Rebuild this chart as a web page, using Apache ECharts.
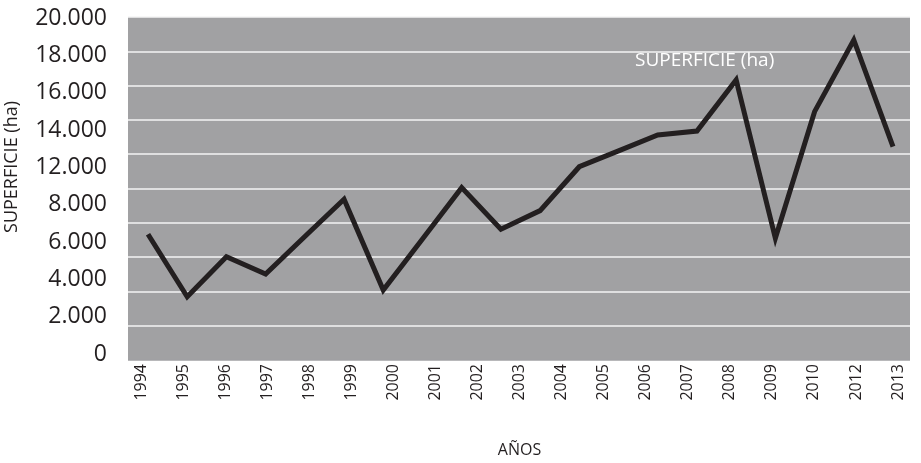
<!DOCTYPE html>
<html>
<head>
<meta charset="utf-8">
<script src="https://cdn.jsdelivr.net/npm/echarts@6/dist/echarts.min.js"></script>
<style>
html, body { margin: 0; padding: 0; background: #fff; }
#chart { width: 921px; height: 463px; }
</style>
</head>
<body>
<div id="chart"></div>
<script>
// years of the line (20 points), the axis below only lists 19 of them
var years = ['1994', '1995', '1996', '1997', '1998', '1999', '2000', '2001', '2002', '2003',
	'2004', '2005', '2006', '2007', '2008', '2009', '2010', '2011', '2012', '2013'];
var superficie = [7330, 3690, 6020, 5010, 7200, 9370, 4080, 7060, 10050, 7620,
	8710, 11270, 12190, 13120, 13350, 16330, 7100, 14480, 18660, 12440];
var yearLabels = ['1994', '1995', '1996', '1997', '1998', '1999', '2000', '2001', '2002', '2003',
	'2004', '2005', '2006', '2007', '2008', '2009', '2010', '2012', '2013'];
var yLabels = ['0', '2.000', '4.000', '6.000', '8.000', '12.000', '14.000', '16.000', '18.000', '20.000'];

var font = '"Open Sans", "Noto Sans", sans-serif';
var ink = '#231f20';

var gridColors = ['#a1a1a3'];
for (var i = 0; i < 10; i++) gridColors.push('#f4f4f4');

var chart = echarts.init(document.getElementById('chart'));
var option = {
	animation : false,
	textStyle : { fontFamily : font },
	grid : [
		{ left : 128, right : 11, top : 17, bottom : 103, show : true, backgroundColor : '#a1a1a3', borderWidth : 0 },
		{ left : 148, right : 28, top : 17, bottom : 103 },
		{ left : 141, right : 23, top : 17, bottom : 103 },
		{ left : 115, width : 10, top : 18, bottom : 109 }
	],
	xAxis : [
		{ gridIndex : 0, type : 'value', show : false },
		{ gridIndex : 1, type : 'category', data : years, boundaryGap : false, show : false },
		{
			gridIndex : 2, type : 'category', data : yearLabels, boundaryGap : false,
			axisLine : { show : false }, axisTick : { show : false },
			axisLabel : { rotate : 90, margin : 16, fontSize : 16, color : ink, fontFamily : font },
			name : 'AÑOS', nameLocation : 'middle', nameGap : 94,
			nameTextStyle : { fontSize : 16, color : ink, fontFamily : font }
		},
		{ gridIndex : 3, type : 'value', show : false }
	],
	yAxis : [
		{
			gridIndex : 0, type : 'value', min : 0, max : 20000, interval : 2000,
			axisLine : { show : false }, axisTick : { show : false }, axisLabel : { show : false },
			splitLine : { show : true, lineStyle : { color : gridColors, width : 1.5 } }
		},
		{ gridIndex : 1, type : 'value', min : 0, max : 20000, show : false },
		{ gridIndex : 2, type : 'value', show : false },
		{
			gridIndex : 3, type : 'category', data : yLabels, boundaryGap : false,
			axisLine : { show : false }, axisTick : { show : false }, splitLine : { show : false },
			axisLabel : { margin : 8, fontSize : 23, color : ink, fontFamily : font }
		}
	],
	series : [ {
		name : 'SUPERFICIE (ha)',
		type : 'line',
		xAxisIndex : 1,
		yAxisIndex : 1,
		data : superficie,
		symbol : 'none',
		silent : true,
		lineStyle : { color : ink, width : 5, join : 'miter', miterLimit : 10 }
	} ],
	graphic : [ {
		type : 'text', x : 12, y : 167, rotation : Math.PI / 2,
		style : { text : 'SUPERFICIE (ha)', fill : ink, font : '18px ' + font, align : 'center', verticalAlign : 'middle' }
	}, {
		type : 'text', left : 635, top : 51,
		style : { text : 'SUPERFICIE (ha)', fill : '#ffffff', font : '19px ' + font }
	} ]
};
chart.setOption(option);
</script>
</body>
</html>
